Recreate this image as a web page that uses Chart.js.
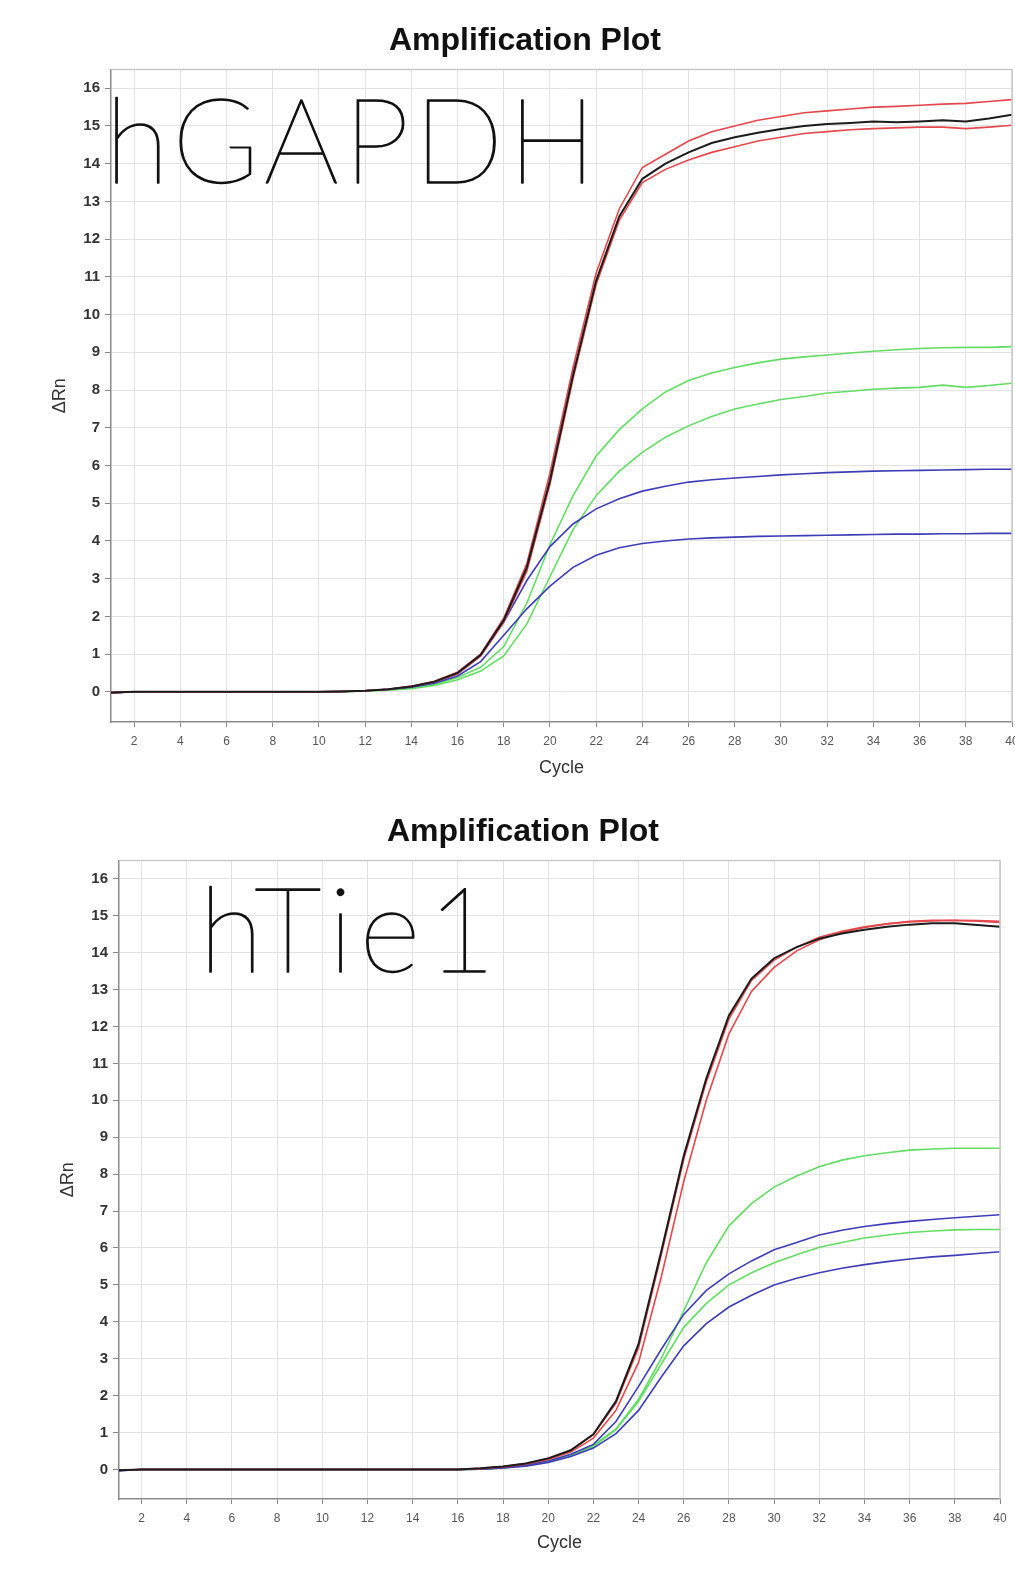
<!DOCTYPE html>
<html><head><meta charset="utf-8">
<script src="https://cdn.jsdelivr.net/npm/chart.js@4.4.1/dist/chart.umd.min.js"></script>
<style>
html,body{margin:0;padding:0;background:#fff;overflow:hidden;width:1015px;height:1569px;}
.wrap{position:absolute;left:0;}
canvas{display:block;}
</style></head><body>
<div class="wrap" style="top:0;"><canvas id="c1" width="1030" height="790" style="width:1030px;height:790px"></canvas></div>
<div class="wrap" style="top:790px;"><canvas id="c2" width="1015" height="779" style="width:1015px;height:779px"></canvas></div>
<script>
// ---------- data ----------
const cycles = [1,2,3,4,5,6,7,8,9,10,11,12,13,14,15,16,17,18,19,20,21,22,23,24,25,26,27,28,29,30,31,32,33,34,35,36,37,38,39,40];
const yTickValues = [0,1,2,3,4,5,6,7,8,9,10,11,12,13,14,15,16];
const xTickValues = [2,4,6,8,10,12,14,16,18,20,22,24,26,28,30,32,34,36,38,40];

// hGAPDH
const gapdhRed1 = [-0.02,0,0,0,0,0,0,0,0,0, 0.01,0.03,0.07,0.15,0.28,0.52,1.0,1.95,3.4,5.8, 8.6,11.1,12.8,13.9,14.25,14.6,14.85,15.0,15.15,15.25, 15.35,15.4,15.45,15.5,15.52,15.55,15.58,15.6,15.65,15.7];
const gapdhBlack = [-0.02,0,0,0,0,0,0,0,0,0, 0.01,0.03,0.07,0.14,0.27,0.5,0.98,1.9,3.3,5.6, 8.4,10.9,12.6,13.6,14.0,14.3,14.55,14.7,14.82,14.92, 15.0,15.05,15.08,15.12,15.1,15.12,15.15,15.12,15.2,15.3];
const gapdhRed2 = [-0.02,0,0,0,0,0,0,0,0,0, 0.01,0.03,0.07,0.14,0.26,0.48,0.95,1.85,3.2,5.5, 8.3,10.8,12.5,13.5,13.85,14.1,14.3,14.45,14.6,14.7, 14.8,14.85,14.9,14.93,14.95,14.97,14.97,14.93,14.97,15.02];
const gapdhGreen1 = [-0.02,0,0,0,0,0,0,0,0,0, 0.01,0.02,0.05,0.1,0.2,0.38,0.65,1.2,2.35,3.9, 5.2,6.25,6.95,7.5,7.95,8.25,8.45,8.6,8.72,8.82, 8.88,8.93,8.98,9.03,9.07,9.1,9.12,9.13,9.13,9.15];
const gapdhGreen2 = [-0.02,0,0,0,0,0,0,0,0,0, 0.0,0.02,0.04,0.08,0.17,0.32,0.55,0.95,1.8,3.05, 4.3,5.2,5.85,6.35,6.75,7.05,7.3,7.5,7.63,7.75, 7.83,7.92,7.97,8.02,8.05,8.07,8.13,8.07,8.12,8.18];
const gapdhBlue1 = [-0.03,0,0,0,0,0,0,0,0,0, 0.01,0.03,0.07,0.14,0.26,0.48,0.95,1.85,2.95,3.85, 4.45,4.85,5.12,5.32,5.45,5.56,5.62,5.67,5.71,5.75, 5.78,5.81,5.83,5.85,5.86,5.87,5.88,5.89,5.9,5.9];
const gapdhBlue2 = [-0.03,0,0,0,0,0,0,0,0,0, 0.01,0.03,0.06,0.12,0.23,0.42,0.8,1.5,2.2,2.8, 3.3,3.62,3.82,3.93,4.0,4.05,4.08,4.1,4.12,4.13, 4.14,4.15,4.16,4.17,4.18,4.18,4.19,4.19,4.2,4.2];

// hTie1
const tieBlack = [-0.02,0,0,0,0,0,0,0,0,0, 0,0,0,0,0,0,0.03,0.08,0.16,0.3, 0.52,0.95,1.85,3.4,5.9,8.5,10.6,12.3,13.3,13.85, 14.15,14.38,14.52,14.62,14.7,14.76,14.8,14.8,14.75,14.7];
const tieRed1 = [-0.02,0,0,0,0,0,0,0,0,0, 0,0,0,0,0,0,0.03,0.08,0.16,0.3, 0.52,0.95,1.8,3.3,5.8,8.4,10.5,12.2,13.25,13.8, 14.15,14.42,14.58,14.7,14.78,14.83,14.86,14.87,14.85,14.82];
const tieRed2 = [-0.02,0,0,0,0,0,0,0,0,0, 0,0,0,0,0,0,0.02,0.07,0.14,0.27, 0.47,0.85,1.6,2.9,5.2,7.8,10.0,11.8,12.95,13.6, 14.05,14.35,14.55,14.68,14.78,14.85,14.88,14.88,14.87,14.85];
const tieGreen1 = [-0.02,0,0,0,0,0,0,0,0,0, 0,0,0,0,0,0,0.01,0.05,0.12,0.23, 0.4,0.65,1.1,1.9,3.0,4.3,5.6,6.6,7.2,7.65, 7.95,8.2,8.38,8.5,8.58,8.65,8.68,8.7,8.7,8.7];
const tieBlue1 = [-0.03,0,0,0,0,0,0,0,0,0, 0,0,0,0,0,0,0.01,0.05,0.12,0.23, 0.41,0.68,1.3,2.25,3.25,4.2,4.85,5.3,5.65,5.95, 6.15,6.35,6.48,6.58,6.66,6.72,6.77,6.82,6.86,6.9];
const tieGreen2 = [-0.02,0,0,0,0,0,0,0,0,0, 0,0,0,0,0,0,0.01,0.04,0.1,0.21, 0.38,0.62,1.08,1.85,2.85,3.85,4.5,5.0,5.33,5.6, 5.82,6.02,6.15,6.27,6.35,6.42,6.46,6.49,6.5,6.5];
const tieBlue2 = [-0.03,0,0,0,0,0,0,0,0,0, 0,0,0,0,0,0,0.01,0.04,0.09,0.19, 0.35,0.58,0.97,1.6,2.5,3.35,3.95,4.4,4.72,5.0, 5.18,5.33,5.45,5.55,5.63,5.7,5.76,5.8,5.85,5.9];

const RED = '#e2474c', BLACK = '#1c1c1c', GREEN = '#62dc62', BLUE = '#3d3db8';

// ---------- helpers ----------
const pts = arr => arr.map((v, i) => ({x: cycles[i], y: v}));
const ds = (arr, color, w) => ({data: pts(arr), borderColor: color, borderWidth: w, pointRadius: 0, tension: 0, fill: false});

const frame = {
  id: 'frame',
  afterDraw(chart) {
    const {ctx, chartArea: a} = chart;
    ctx.save();
    ctx.strokeStyle = '#c8c8c8'; ctx.lineWidth = 1.5;
    ctx.beginPath(); ctx.moveTo(a.left, a.top); ctx.lineTo(a.right, a.top); ctx.lineTo(a.right, a.bottom); ctx.stroke();
    ctx.restore();
  }
};
const bigLabel = {
  id: 'bigLabel',
  beforeDatasetsDraw(chart, args, opts) {
    const {ctx} = chart;
    ctx.save();
    ctx.font = opts.font; ctx.fillStyle = '#111'; ctx.strokeStyle = '#111';
    ctx.lineWidth = opts.stroke; ctx.lineJoin = 'round';
    ctx.textBaseline = 'alphabetic'; ctx.textAlign = 'left';
    if ('letterSpacing' in ctx) ctx.letterSpacing = opts.spacing + 'px';
    ctx.fillText(opts.text, opts.x, opts.y);
    ctx.strokeText(opts.text, opts.x, opts.y);
    ctx.restore();
  }
};

function makeChart(id, datasets, lay) {
  return new Chart(document.getElementById(id), {
    type: 'line',
    data: {datasets},
    plugins: [frame, bigLabel],
    options: {
      responsive: false, animation: false, devicePixelRatio: 1,
      layout: {padding: {left: lay.pl, right: lay.pr, top: 0, bottom: lay.pb}},
      plugins: {
        legend: {display: false}, tooltip: {enabled: false},
        title: {display: true, text: 'Amplification Plot', color: '#111',
          font: {family: 'Liberation Sans, Arial, sans-serif', size: 32, weight: 'bold'},
          padding: {top: lay.tt, bottom: lay.tb}},
        bigLabel: {text: lay.label, x: lay.lx, y: lay.ly, font: '200 118px Lato', spacing: lay.ls, stroke: 1.3}
      },
      scales: {
        x: {
          type: 'linear', min: 1, max: 40,
          afterBuildTicks: s => { s.ticks = xTickValues.map(v => ({value: v})); },
          afterFit: s => { s.height = lay.xh; },
          ticks: {stepSize: 2, autoSkip: false, maxRotation: 0, color: '#555', padding: 7,
            font: {family: 'Liberation Sans, Arial, sans-serif', size: 12}},
          grid: {color: '#e3e3e3', tickColor: '#888', tickLength: 5, lineWidth: 1},
          border: {color: '#8a8a8a', width: 1.5},
          title: {display: true, text: 'Cycle', color: '#333',
            font: {family: 'Liberation Sans, Arial, sans-serif', size: 18}, padding: {top: 0, bottom: lay.xtb}}
        },
        y: {
          type: 'linear', min: -0.8, max: 16.5,
          afterBuildTicks: s => { s.ticks = yTickValues.map(v => ({value: v})); },
          afterFit: s => { s.width = 73; },
          ticks: {stepSize: 1, autoSkip: false, color: '#333', padding: 5,
            font: {family: 'Liberation Sans, Arial, sans-serif', size: 15, weight: 'bold'}},
          grid: {color: '#e3e3e3', tickColor: '#888', tickLength: 6, lineWidth: 1},
          border: {color: '#8a8a8a', width: 1.5},
          title: {display: true, text: 'ΔRn', color: '#333',
            font: {family: 'Liberation Sans, Arial, sans-serif', size: 18}, padding: {top: 11, bottom: 0}}
        }
      }
    }
  });
}

makeChart('c1', [
  ds(gapdhBlack, BLACK, 2),
  ds(gapdhRed1, RED, 1.6),
  ds(gapdhRed2, RED, 1.6),
  ds(gapdhBlue1, BLUE, 1.6),
  ds(gapdhBlue2, BLUE, 1.6),
  ds(gapdhGreen1, GREEN, 1.6),
  ds(gapdhGreen2, GREEN, 1.6)
], {pl: 38, pr: 18, pb: 8, tt: 22, tb: 9, xh: 60, xtb: 3, label: 'hGAPDH', lx: 105, ly: 183, ls: 4.5});

makeChart('c2', [
  ds(tieBlack, BLACK, 2),
  ds(tieRed1, RED, 1.6),
  ds(tieRed2, RED, 1.6),
  ds(tieBlue1, BLUE, 1.6),
  ds(tieBlue2, BLUE, 1.6),
  ds(tieGreen1, GREEN, 1.6),
  ds(tieGreen2, GREEN, 1.6)
], {pl: 46, pr: 15, pb: 0, tt: 23, tb: 9, xh: 70, xtb: 15, label: 'hTie1', lx: 199, ly: 182, ls: 6.8});
</script>
</body></html>
